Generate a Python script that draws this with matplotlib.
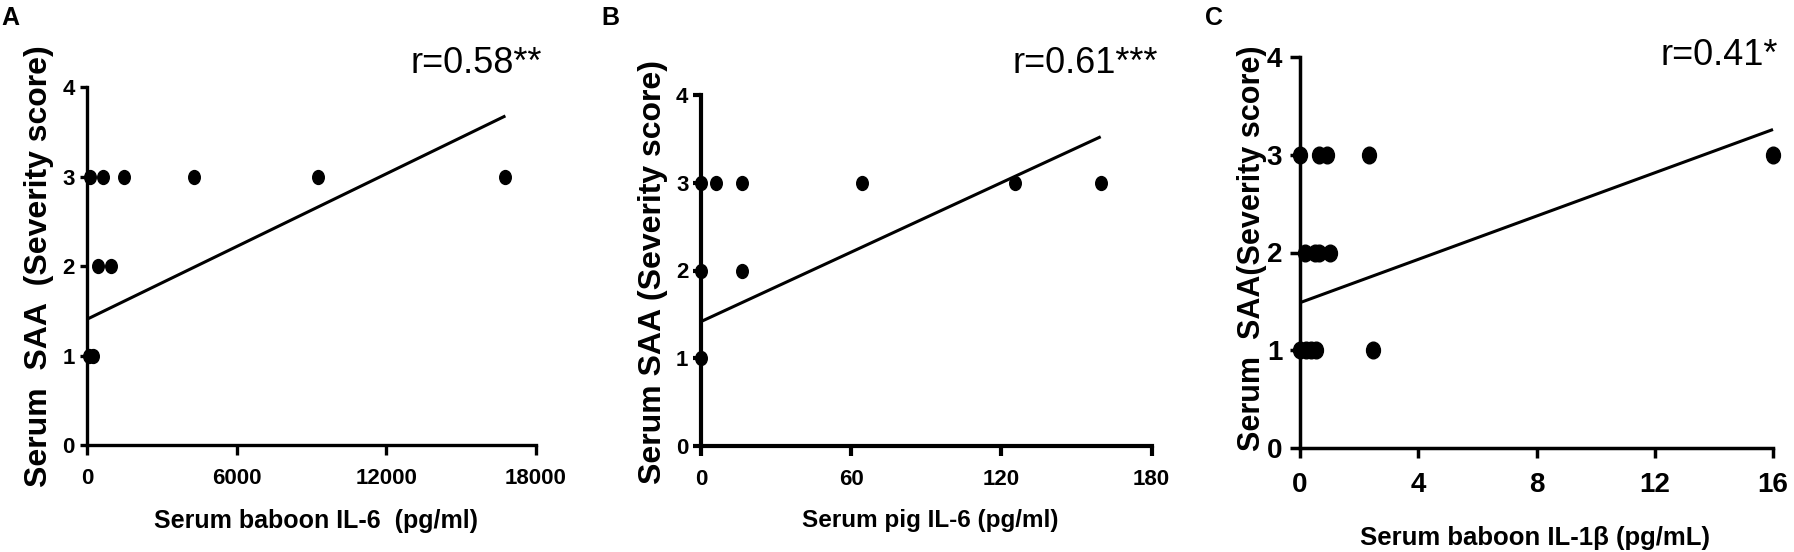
import numpy as np
import matplotlib.pyplot as plt
from matplotlib.path import Path

plt.rcParams['font.family'] = ['Liberation Sans', 'DejaVu Sans']

# panel A: baboon IL-6
a_x = [94, 628, 1470, 4280, 9250, 16780, 428, 962, 50, 230]
a_y = [3, 3, 3, 3, 3, 3, 2, 2, 1, 1]
a_fit = [1.41, 1.353e-4]      # intercept, slope
a_xticks = [0, 6000, 12000, 18000]

# panel B: pig IL-6
b_x = [0, 6, 16.3, 64.5, 125.5, 159.7, 0, 16.3, 0]
b_y = [3, 3, 3, 3, 3, 3, 2, 2, 1]
b_fit = [1.418, 0.01319]
b_xticks = [0, 60, 120, 180]

# panel C: baboon IL-1beta
c_x = [0, 0.65, 0.93, 2.33, 16.0, 0.17, 0.5, 0.65, 1.0, 0, 0.2, 0.37, 0.54, 2.46]
c_y = [3, 3, 3, 3, 3, 2, 2, 2, 2, 1, 1, 1, 1, 1]
c_fit = [1.486, 0.1109]
c_xticks = [0, 4, 8, 12, 16]

yticks = [0, 1, 2, 3, 4]

W, H = 1794.0, 552.0


def oval(aspect=1.2):
    circ = Path.unit_circle()
    return Path(circ.vertices * [1, aspect], circ.codes)


def panel(fig, box, x, y, fit, xticks, lw, tick_fs, ms, xpad, ypad, ylen):
    # box in pixels: left, right, y of 0, y of 4
    l, r, y0, y4 = box
    ax = fig.add_axes([l / W, (H - y0) / H, (r - l) / W, (y0 - y4) / H])
    ax.plot(x, y, linestyle='none', marker=oval(), markersize=ms,
            color='black', clip_on=False, zorder=3)
    xx = np.array([0, max(x)])
    ax.plot(xx, fit[0] + fit[1] * xx, color='black', lw=2.2,
            solid_capstyle='butt', clip_on=False)
    ax.set_xlim(xticks[0], xticks[-1])
    ax.set_ylim(0, 4)
    ax.set_xticks(xticks)
    ax.set_yticks(yticks)
    for s in ['top', 'right']:
        ax.spines[s].set_visible(False)
    for s in ['left', 'bottom']:
        ax.spines[s].set_linewidth(lw)
    ax.tick_params(axis='x', direction='out', length=7.5, width=lw,
                   pad=xpad, labelsize=tick_fs)
    ax.tick_params(axis='y', direction='out', length=ylen, width=lw,
                   pad=ypad, labelsize=tick_fs)
    for t in ax.get_xticklabels() + ax.get_yticklabels():
        t.set_fontweight('bold')
    return ax


fig = plt.figure(figsize=(W / 100, H / 100), dpi=100)

panel(fig, (87.3, 535.8, 445.3, 87.3), a_x, a_y, a_fit, a_xticks,
      2.4, 16, 10, 9, 3.6, 5.3)
panel(fig, (701, 1151.5, 446, 95), b_x, b_y, b_fit, b_xticks,
      3.0, 16, 10, 9, 3.6, 5.5)
panel(fig, (1300, 1773, 447.7, 57.3), c_x, c_y, c_fit, c_xticks,
      2.5, 20, 12, 10, 5.8, 7)

# panel letters
for px, txt in [(1, 'A'), (601, 'B'), (1205, 'C')]:
    fig.text(px / W, 1 - 25 / H, txt, fontsize=18, fontweight='bold',
             va='baseline', ha='left')

# correlation labels
for px, py, txt in [(410.7, 72.7, 'r=0.58**'), (1012.7, 72.7, 'r=0.61***'),
                    (1660, 65, 'r=0.41*')]:
    fig.text(px / W, 1 - py / H, txt, fontsize=26, va='baseline', ha='left')

# x labels
for px, py, fs, txt in [(316, 528, 18, 'Serum baboon IL-6  (pg/ml)'),
                        (930, 526.7, 17.5, 'Serum pig IL-6 (pg/ml)'),
                        (1535, 545, 18.5, 'Serum baboon IL-1\u03b2 (pg/mL)')]:
    fig.text(px / W, 1 - py / H, txt, fontsize=fs, fontweight='bold',
             va='baseline', ha='center')

# y labels
for px, py, fs, txt in [(39, 266.5, 23, 'Serum  SAA  (Severity score)'),
                        (653, 271.7, 23, 'Serum SAA (Severity score)'),
                        (1252, 248.5, 22, 'Serum  SAA(Severity score)')]:
    fig.text(px / W, 1 - py / H, txt, fontsize=fs, fontweight='bold',
             rotation=90, va='center', ha='center')

fig.savefig('out.png', dpi=100)
